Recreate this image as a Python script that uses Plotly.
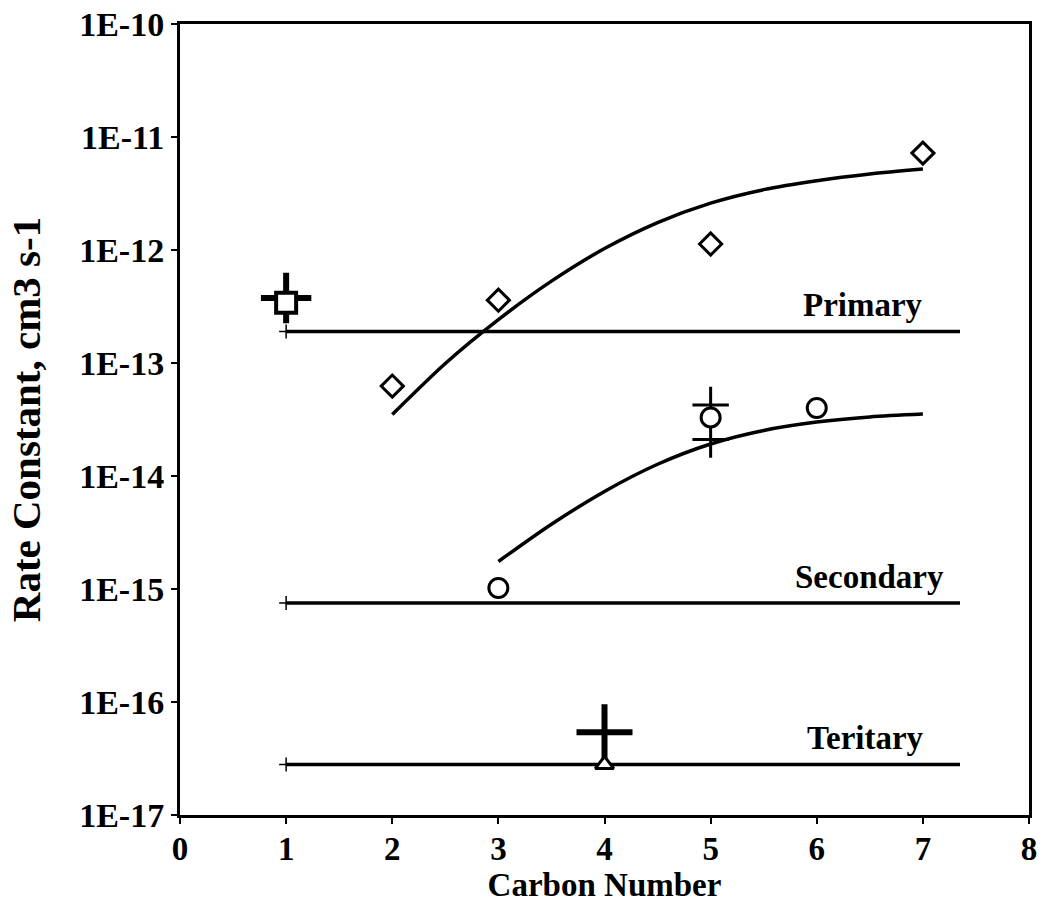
import math
import plotly.graph_objects as go

# ---------------- data ----------------
x_ticks = [0, 1, 2, 3, 4, 5, 6, 7, 8]
y_tickvals = [1e-10, 1e-11, 1e-12, 1e-13, 1e-14, 1e-15, 1e-16, 1e-17]
y_ticktext = ["1E-10", "1E-11", "1E-12", "1E-13", "1E-14", "1E-15", "1E-16", "1E-17"]

# horizontal reference levels (start at carbon 1)
level_x = [1, 7.35]
primary_level = 1.9e-13
secondary_level = 7.5e-16
tertiary_level = 2.8e-17

# fitted curves
primary_fit_x = [2, 2.5, 3, 3.5, 4, 4.5, 5, 5.5, 6, 6.5, 7]
primary_fit_y = [3.5e-14, 9.9e-14, 2.42e-13, 5.3e-13, 1.03e-12, 1.75e-12, 2.6e-12, 3.42e-12, 4.1e-12, 4.7e-12, 5.2e-12]
secondary_fit_x = [3, 3.5, 4, 4.5, 5, 5.5, 6, 6.5, 7]
secondary_fit_y = [1.75e-15, 3.74e-15, 7.3e-15, 1.27e-14, 1.92e-14, 2.53e-14, 3.0e-14, 3.33e-14, 3.53e-14]

# measured points
primary_diamond_x = [2, 3, 5, 7]
primary_diamond_y = [6.25e-14, 3.6e-13, 1.13e-12, 7.2e-12]
methane_square_x = [1]
methane_square_y = [3.42e-13]
methane_plus_x = [1]
methane_plus_y = [3.76e-13]
secondary_circle_x = [3, 5, 6]
secondary_circle_y = [1.02e-15, 3.3e-14, 4.0e-14]
secondary_plus_x = [5, 5]
secondary_plus_y = [4.25e-14, 2.1e-14]
tertiary_plus_x = [4]
tertiary_plus_y = [5.4e-17]
tertiary_triangle_x = [4]
tertiary_triangle_y = [2.8e-17]

labels = ["Primary", "Secondary", "Teritary"]
label_x = [6.44, 6.5, 6.46]
label_y = [3.26e-13, 1.28e-15, 4.8e-17]

# ---------------- figure ----------------
FONT = "Liberation Serif"
fig = go.Figure()

for lvl in [primary_level, secondary_level, tertiary_level]:
    fig.add_trace(go.Scatter(x=level_x, y=[lvl, lvl], mode="lines",
                             line=dict(color="black", width=3.5), showlegend=False))
    fig.add_trace(go.Scatter(x=[level_x[0]], y=[lvl], mode="markers",
                             marker=dict(symbol="cross-thin", size=10,
                                         line=dict(color="black", width=1.5)),
                             showlegend=False))

fig.add_trace(go.Scatter(x=primary_fit_x, y=primary_fit_y, mode="lines",
                         line=dict(color="black", width=3.5, shape="spline", smoothing=0.8),
                         showlegend=False))
fig.add_trace(go.Scatter(x=secondary_fit_x, y=secondary_fit_y, mode="lines",
                         line=dict(color="black", width=3.5, shape="spline", smoothing=0.8),
                         showlegend=False))

fig.add_trace(go.Scatter(x=primary_diamond_x, y=primary_diamond_y, mode="markers",
                         marker=dict(symbol="diamond-open", size=17, color="black",
                                     line=dict(color="black", width=3)), showlegend=False))
fig.add_trace(go.Scatter(x=methane_plus_x, y=methane_plus_y, mode="markers",
                         marker=dict(symbol="cross-thin", size=36,
                                     line=dict(color="black", width=6)), showlegend=False))
fig.add_trace(go.Scatter(x=methane_square_x, y=methane_square_y, mode="markers",
                         marker=dict(symbol="square", size=20, color="white",
                                     line=dict(color="black", width=4)), showlegend=False))
fig.add_trace(go.Scatter(x=secondary_plus_x, y=secondary_plus_y, mode="markers",
                         marker=dict(symbol="cross-thin", size=26,
                                     line=dict(color="black", width=3)), showlegend=False))
fig.add_trace(go.Scatter(x=secondary_circle_x, y=secondary_circle_y, mode="markers",
                         marker=dict(symbol="circle", size=19, color="white",
                                     line=dict(color="black", width=3)), showlegend=False))
fig.add_trace(go.Scatter(x=tertiary_plus_x, y=tertiary_plus_y, mode="markers",
                         marker=dict(symbol="cross-thin", size=40,
                                     line=dict(color="black", width=6)), showlegend=False))
fig.add_trace(go.Scatter(x=tertiary_triangle_x, y=tertiary_triangle_y, mode="markers",
                         marker=dict(symbol="triangle-up", size=16, color="white",
                                     line=dict(color="black", width=3)), showlegend=False))

for t, lx, ly in zip(labels, label_x, label_y):
    fig.add_annotation(x=lx, y=math.log10(ly), xref="x", yref="y", text=t,
                       showarrow=False,
                       font=dict(family=FONT, size=33, color="black", weight="bold"))

fig.update_layout(
    width=1043, height=908,
    margin=dict(l=180, r=14, t=24, b=93),
    paper_bgcolor="white", plot_bgcolor="white",
    font=dict(family=FONT, color="black"),
)
fig.update_xaxes(
    range=[0, 8], tickvals=x_ticks, ticks="outside", ticklen=6, tickwidth=2,
    tickcolor="black", showline=True, linecolor="black", linewidth=3, mirror=True,
    showgrid=False, zeroline=False, automargin=False,
    ticklabelstandoff=-4, ticklabeloverflow="allow",
    tickfont=dict(family=FONT, size=33, color="black", weight="bold"),
    title=dict(text="Carbon Number", standoff=8,
               font=dict(family=FONT, size=33, color="black", weight="bold")),
)
fig.update_yaxes(
    type="log", range=[-17, -10], tickvals=y_tickvals, ticktext=y_ticktext,
    ticks="outside", ticklen=6, tickwidth=2, tickcolor="black",
    showline=True, linecolor="black", linewidth=3, mirror=True,
    showgrid=False, zeroline=False, automargin=False,
    ticklabeloverflow="allow",
    tickfont=dict(family=FONT, size=34, color="black", weight="bold"),
    title=dict(text="Rate Constant, cm3 s-1", standoff=26,
               font=dict(family=FONT, size=41, color="black", weight="bold")),
)

# remove the browser's default 8 px body margin so the figure fills the window
fig.write_html("out.html",
               config={"displayModeBar": False},
               post_script="document.body.style.margin='0';document.body.style.overflow='hidden';")
